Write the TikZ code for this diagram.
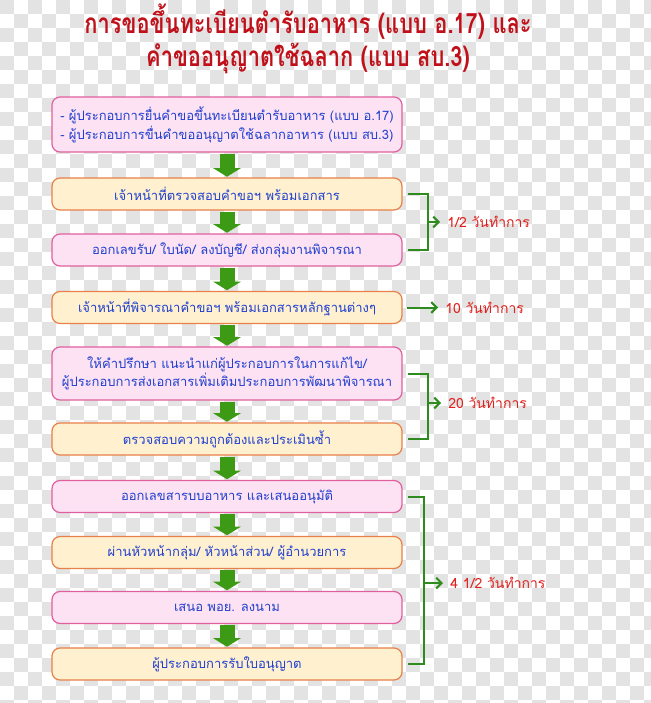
\documentclass[tikz,border=0pt]{standalone}
\usepackage{fontspec}
\setmainfont[Script=Thai]{Loma}
\newfontfamily\titlefont[Script=Thai,FakeStretch=0.78]{Loma}
\usetikzlibrary{arrows.meta}
\definecolor{checkgray}{HTML}{E3E3E3}
\definecolor{titlered}{HTML}{C0101A}
\definecolor{pinkfill}{HTML}{FDE2F3}
\definecolor{pinkline}{HTML}{E0609E}
\definecolor{yellowfill}{HTML}{FFF1CF}
\definecolor{yellowline}{HTML}{E8804A}
\definecolor{textblue}{HTML}{1F3FCF}
\definecolor{arrowgreen}{HTML}{3C9A14}
\definecolor{brkgreen}{HTML}{2E8B1E}
\definecolor{labelred}{HTML}{E0201C}

\begin{document}
\begin{tikzpicture}[x=0.75pt,y=0.75pt,yscale=-1,xscale=1,
	stepbox/.style={draw, rounded corners=6pt, minimum width=262.5pt, minimum height=24pt, line width=0.9pt, text=textblue, font=\fontsize{9.75}{14}\selectfont, inner sep=0.75pt, align=center},
	pinkbox/.style={stepbox, fill=pinkfill, draw=pinkline},
	yellowbox/.style={stepbox, fill=yellowfill, draw=yellowline},
	flow/.style={draw=arrowgreen, line width=11.25pt, -{Triangle[width=21pt,length=6.5pt,line width=0pt]}, shorten <=0.75pt, shorten >=0.5pt},
	brk/.style={draw=brkgreen, line width=1.5pt},
	tip/.style={-{Straight Barb[length=4pt,width=8pt]}, shorten >=4.5pt},
	daylabel/.style={text=labelred, font=\fontsize{10.5}{12}\selectfont, anchor=west, inner sep=0.75pt}]
	\useasboundingbox (0,0) rectangle (650,703);
	
	%Shape: checker background
	\fill[white] (0,0) rectangle (650,703);
	\foreach \j in {0,2,...,50}{
		\foreach \i in {0,2,...,46}{
			\fill[checkgray] (\i*14,\j*14) rectangle (\i*14+14,\j*14+14);
			\fill[checkgray] (\i*14+14,\j*14+14) rectangle (\i*14+28,\j*14+28);
		}
	}
	
	% Title
	\node (title) at (308,38.5) [font=\titlefont\bfseries\fontsize{21}{24.75}\selectfont, text=titlered, align=center] {การขอขึ้นทะเบียนตำรับอาหาร (แบบ อ.17) และ\\คำขออนุญาตใช้ฉลาก (แบบ สบ.3)};
	
	% Step boxes
	\node (b1) at (227,124.5) [pinkbox, minimum height=41.25pt, align=left] {- ผู้ประกอบการยื่นคำขอขึ้นทะเบียนตำรับอาหาร (แบบ อ.17)\\- ผู้ประกอบการขื่นคำขออนุญาตใช้ฉลากอาหาร (แบบ สบ.3)};
	\node (b2) at (227,194) [yellowbox] {เจ้าหน้าที่ตรวจสอบคำขอฯ พร้อมเอกสาร};
	\node (b3) at (227,250) [pinkbox] {ออกเลขรับ/ ใบนัด/ ลงบัญชี/ ส่งกลุ่มงานพิจารณา};
	\node (b4) at (227,307.5) [yellowbox] {เจ้าหน้าที่พิจารณาคำขอฯ พร้อมเอกสารหลักฐานต่างๆ};
	\node (b5) at (227,373.5) [pinkbox, minimum height=39.75pt] {ให้คำปรึกษา แนะนำแก่ผู้ประกอบการในการแก้ไข/\\ผู้ประกอบการส่งเอกสารเพิ่มเติมประกอบการพัฒนาพิจารณา};
	\node (b6) at (227,439) [yellowbox] {ตรวจสอบความถูกต้องและประเมินซ้ำ};
	\node (b7) at (227,496.5) [pinkbox] {ออกเลขสารบบอาหาร และเสนออนุมัติ};
	\node (b8) at (227,552.5) [yellowbox] {ผ่านหัวหน้ากลุ่ม/ หัวหน้าส่วน/ ผู้อำนวยการ};
	\node (b9) at (227,607.5) [pinkbox] {เสนอ พอย. ลงนาม};
	\node (b10) at (227,664) [yellowbox] {ผู้ประกอบการรับใบอนุญาต};
	
	% Block arrows
	\foreach \a/\b in {b1/b2,b2/b3,b3/b4,b4/b5,b5/b6,b6/b7,b7/b8,b8/b9,b9/b10}
		\draw[flow] (\a) -- (\b);
	
	% Text Node
	\node (d1) at (446,222) [daylabel] {1/2 วันทำการ};
	\node (d2) at (444,307.5) [daylabel] {10 วันทำการ};
	\node (d3) at (447,403) [daylabel] {20 วันทำการ};
	\node (d4) at (449,583) [daylabel] {4 1/2 วันทำการ};
	
	% Brackets
	\coordinate (k1) at (428,222);
	\coordinate (k3) at (428,403);
	\coordinate (k4) at (424,583);
	\draw[brk] ([xshift=3.75pt]b2.east) -| (k1) |- ([xshift=3.75pt]b3.east);
	\draw[brk,tip] (k1) -- (d1);
	\draw[brk,tip] ([xshift=3pt]b4.east) -- (d2);
	\draw[brk] ([xshift=3.75pt]b5.east) -| (k3) |- ([xshift=3.75pt]b6.east);
	\draw[brk,tip] (k3) -- (d3);
	\draw[brk] ([xshift=3.75pt]b7.east) -| (k4) |- ([xshift=3.75pt]b10.east);
	\draw[brk,tip] (k4) -- (d4);
	
\end{tikzpicture}
\end{document}
